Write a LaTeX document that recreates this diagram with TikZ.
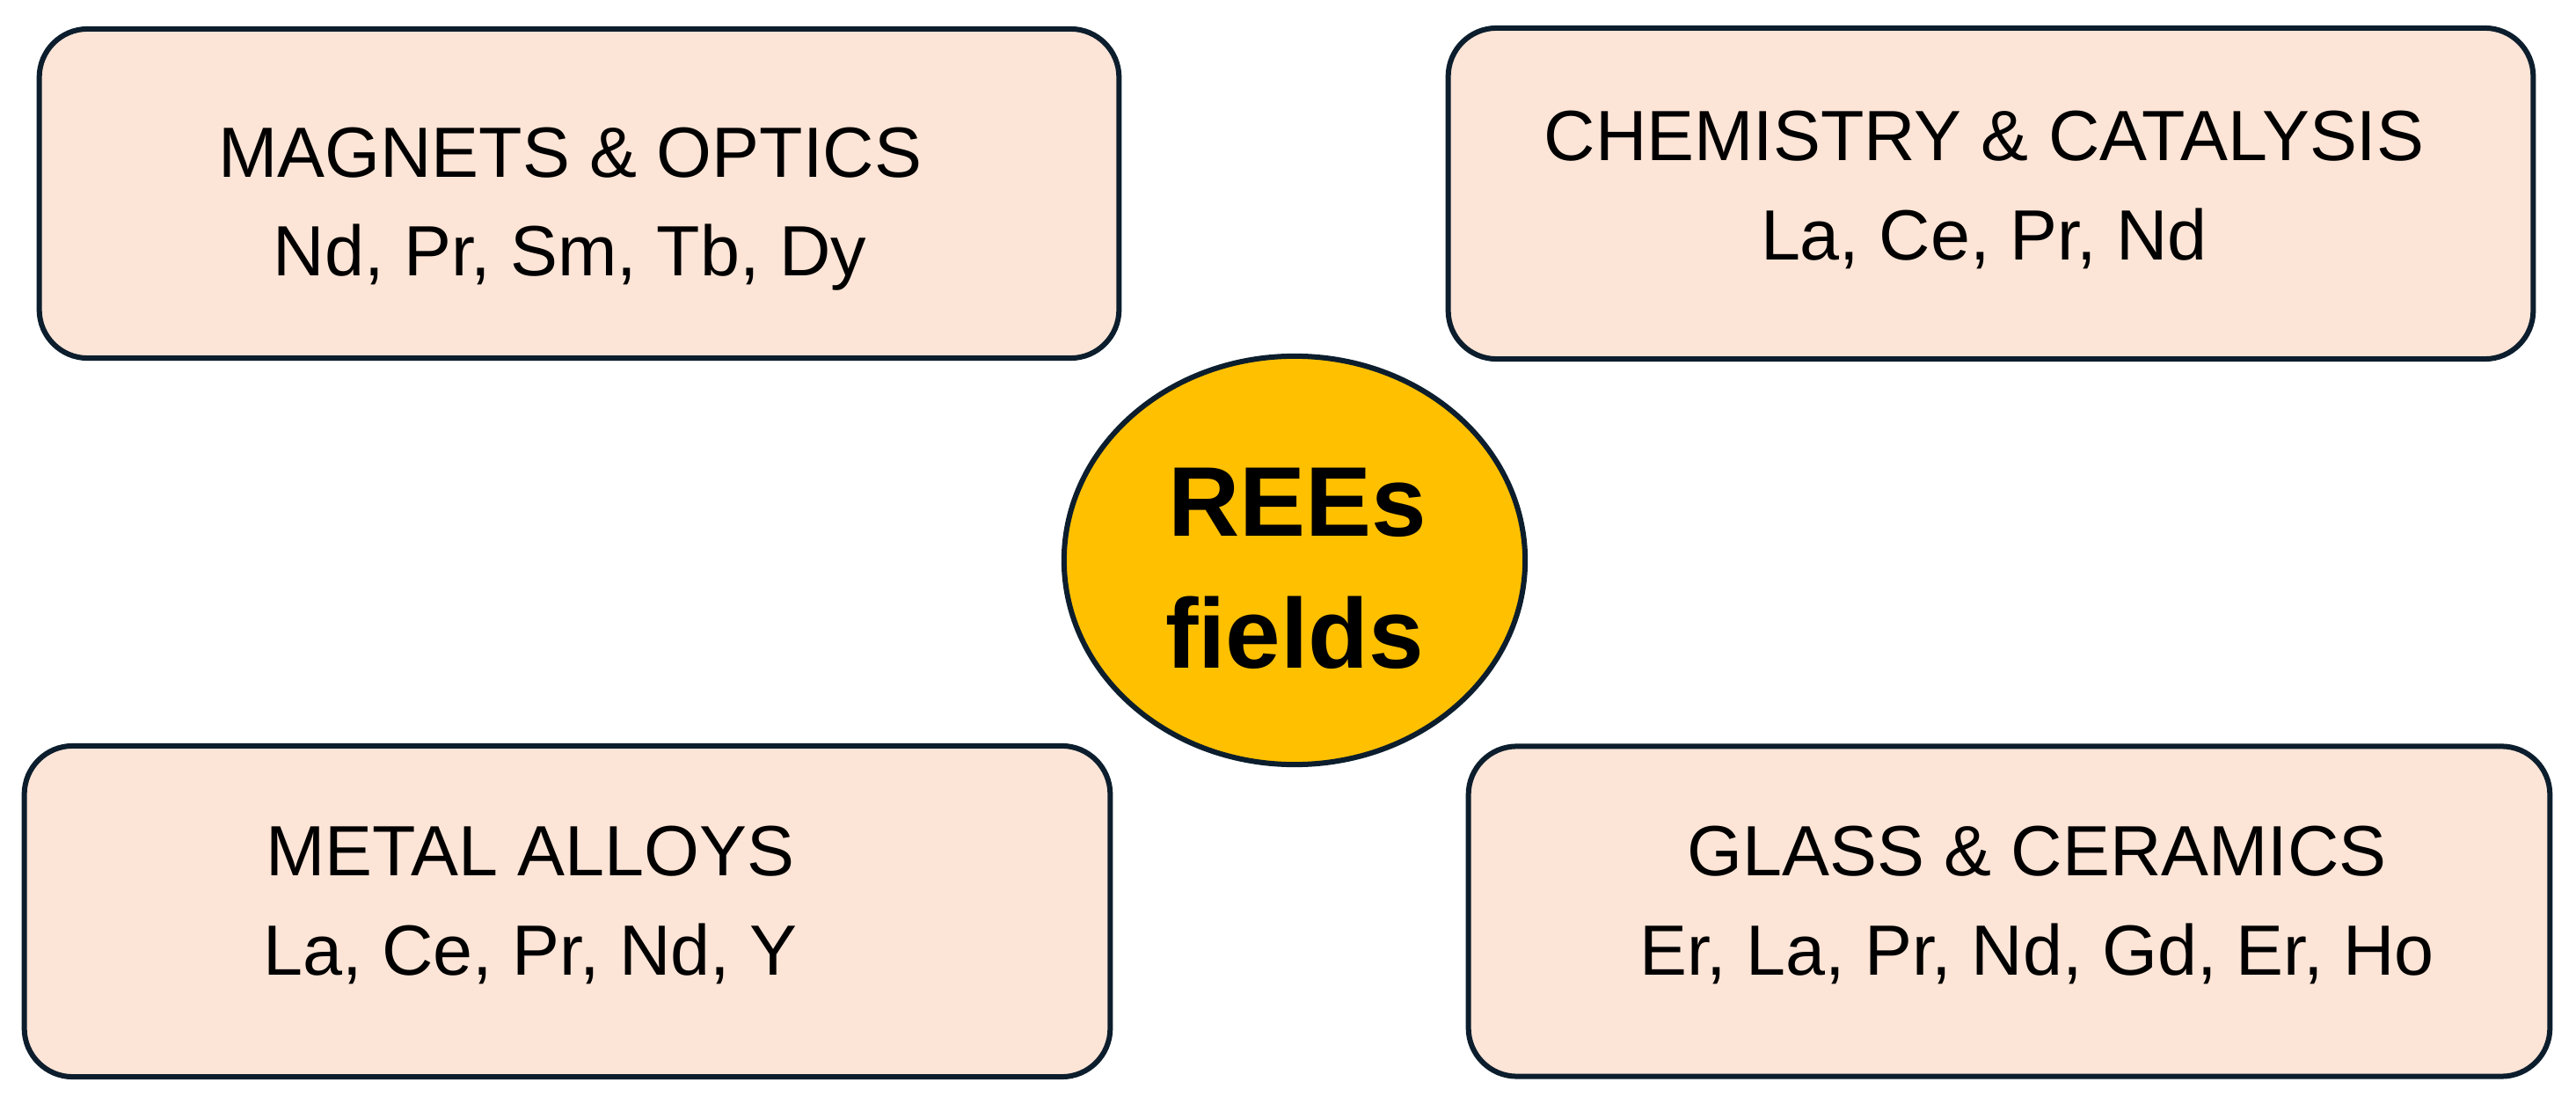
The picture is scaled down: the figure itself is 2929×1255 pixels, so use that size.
\documentclass[tikz,border=0pt]{standalone}
\usepackage{fontspec}
\setmainfont{Liberation Sans}
\usetikzlibrary{shapes.geometric}
\definecolor{edgecol}{RGB}{12,30,45}
\definecolor{peach}{RGB}{252,228,214}
\definecolor{gold}{RGB}{255,192,0}
\begin{document}
\begin{tikzpicture}[x=0.01cm,y=-0.01cm,
  fieldbox/.style={draw=edgecol, line width=0.06cm, fill=peach, rounded corners=0.55cm, inner sep=0pt},
  lbl/.style={anchor=base, font=\fontsize{23}{28}\selectfont, inner sep=0pt, text=black},
  hub/.style={ellipse, draw=edgecol, line width=0.06cm, fill=gold, inner sep=0pt, minimum width=5.24cm, minimum height=4.64cm},
  hublbl/.style={anchor=base, font=\bfseries\fontsize{32}{38}\selectfont, inner sep=0pt, text=black}]
\fill[white] (0,0) rectangle (2929,1255);
\useasboundingbox (0,0) rectangle (2929,1255);
% boxes
\node[fieldbox, minimum width=12.27cm, minimum height=3.74cm] (mag) at (658.5,220) {};
\node[lbl] (mag1) at (648,202) {MAGNETS \& OPTICS};
\node[lbl] (mag2) at (648,314) {Nd, Pr, Sm, Tb, Dy};
\node[fieldbox, minimum width=12.33cm, minimum height=3.76cm] (chem) at (2263.5,220) {};
\node[lbl] (chem1) at (2256,183) {CHEMISTRY \& CATALYSIS};
\node[lbl] (chem2) at (2256,296) {La, Ce, Pr, Nd};
\node[fieldbox, minimum width=12.34cm, minimum height=3.76cm] (alloy) at (645,1036) {};
\node[lbl] (alloy1) at (603,995) {METAL ALLOYS};
\node[lbl] (alloy2) at (603,1108) {La, Ce, Pr, Nd, Y};
\node[fieldbox, minimum width=12.29cm, minimum height=3.75cm] (glass) at (2284.5,1036) {};
\node[lbl] (glass1) at (2316,995) {GLASS \& CERAMICS};
\node[lbl] (glass2) at (2316,1108) {Er, La, Pr, Nd, Gd, Er, Ho};
% centre
\node[hub] (rees) at (1472,637) {};
\node[hublbl] (rees1) at (1475,610) {REEs};
\node[hublbl] (rees2) at (1472,760) {fields};
\end{tikzpicture}
\end{document}
